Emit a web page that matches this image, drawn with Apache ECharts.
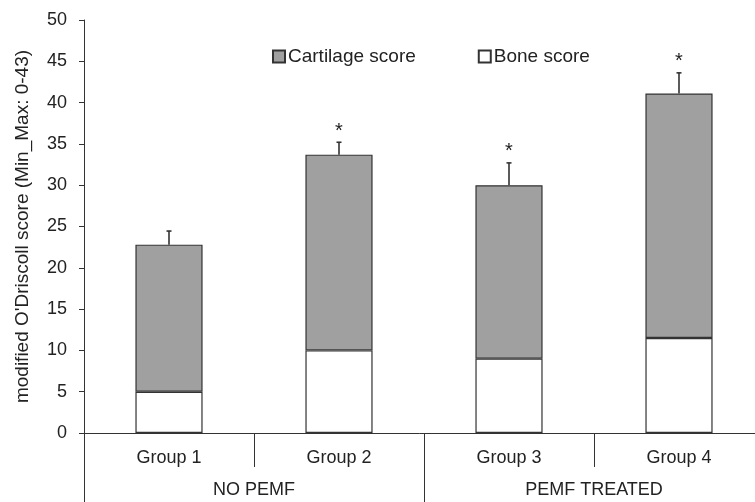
<!DOCTYPE html>
<html><head><meta charset="utf-8">
<script src="https://cdn.jsdelivr.net/npm/echarts@6/dist/echarts.min.js"></script>
<style>html,body{margin:0;padding:0;background:#fff}#c{width:755px;height:502px}</style>
</head><body><div id="c"></div>
<script>
const groups = ['Group 1','Group 2','Group 3','Group 4'];
const treatments = ['NO PEMF','PEMF TREATED'];
const boneScore = [5, 10, 9, 11.5];
const cartilageScore = [17.8, 23.7, 21.0, 29.6];
const errorSD = [1.65, 1.5, 2.7, 2.5];
const significant = ['', '*', '*', '*'];
const yTicks = {min: 0, max: 50, interval: 5};

const totals = boneScore.map((b, i) => b + cartilageScore[i]);
const errData = totals.map((t, i) => [i, t, errorSD[i], significant[i]]);
const FONT = 'Liberation Sans, Arial, sans-serif';
const chart = echarts.init(document.getElementById('c'));
chart.setOption({
  animation: false,
  textStyle: {fontFamily: FONT},
  grid: {left: 84, right: -9, top: 20, bottom: 69, outerBoundsMode: 'none', containLabel: false},
  legend: {
    data: ['Cartilage score', 'Bone score'],
    left: 267, top: 42, itemWidth: 12, itemHeight: 12, itemGap: 62,
    icon: 'rect',
    textStyle: {fontFamily: FONT, fontSize: 19, color: '#222', padding: [0,0,0,-2]}
  },
  xAxis: [{
    type: 'category', data: groups, position: 'bottom',
    axisLine: {show: true, lineStyle: {color: '#333', width: 1}},
    axisTick: {show: true, length: 34, lineStyle: {color: '#333'}},
    axisLabel: {color: '#222', fontSize: 18, margin: 16, fontFamily: FONT}
  }, {
    type: 'category', data: treatments, position: 'bottom',
    axisLine: {show: false},
    axisTick: {show: true, length: 69, lineStyle: {color: '#333'}},
    axisLabel: {color: '#222', fontSize: 18, margin: 48, fontFamily: FONT}
  }],
  yAxis: {
    type: 'value', min: yTicks.min, max: yTicks.max, interval: yTicks.interval,
    name: "modified O'Driscoll score (Min_Max: 0-43)",
    nameLocation: 'middle', nameGap: 52,
    nameTextStyle: {color: '#222', fontSize: 19, fontFamily: FONT},
    axisLine: {show: true, lineStyle: {color: '#333'}},
    axisTick: {show: true, length: 5, lineStyle: {color: '#333'}},
    splitLine: {show: false},
    axisLabel: {color: '#222', fontSize: 18, margin: 17, fontFamily: FONT}
  },
  series: [{
    name: 'Bone score', type: 'bar', stack: 'total', data: boneScore,
    barWidth: '39.5%',
    itemStyle: {color: '#ffffff', borderColor: '#333', borderWidth: 1.2}
  }, {
    name: 'Cartilage score', type: 'bar', stack: 'total', data: cartilageScore,
    barWidth: '39.5%',
    itemStyle: {color: '#a0a0a0', borderColor: '#333', borderWidth: 1.2}
  }, {
    type: 'custom', data: errData, z: 5,
    encode: {x: 0, y: 1},
    renderItem: function (params, api) {
      const i = api.value(0), t = api.value(1), e = api.value(2);
      const p0 = api.coord([i, t]);
      const p1 = api.coord([i, t + e]);
      const sig = errData[params.dataIndex][3];
      const children = [
        {type: 'line', shape: {x1: p0[0], y1: p0[1], x2: p1[0], y2: p1[1]}, style: {stroke: '#333', lineWidth: 1.6}},
        {type: 'line', shape: {x1: p1[0] - 2.5, y1: p1[1], x2: p1[0] + 2.5, y2: p1[1]}, style: {stroke: '#333', lineWidth: 1.6}}
      ];
      if (sig) children.push({type: 'text', style: {text: sig, x: p1[0], y: p1[1] - 1, textAlign: 'center', textVerticalAlign: 'bottom', fontSize: 20, fontFamily: FONT, fill: '#222'}});
      return {type: 'group', children: children};
    }
  }]
});
</script></body></html>
